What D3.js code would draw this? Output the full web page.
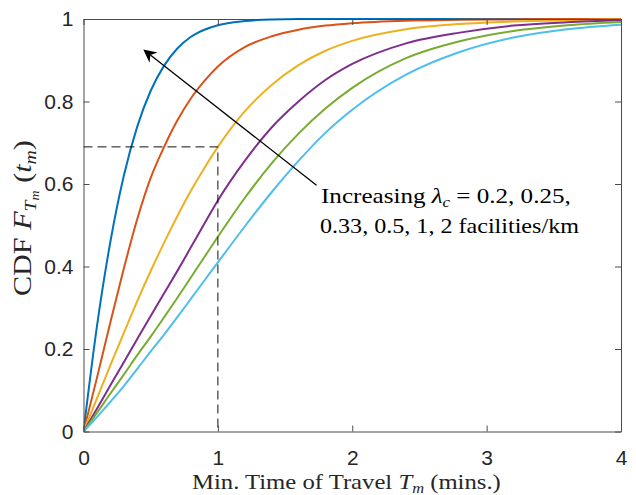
<!DOCTYPE html>
<html>
<head>
<meta charset="utf-8">
<script src="https://cdn.jsdelivr.net/npm/d3@7"></script>
<style>
  html, body { margin: 0; padding: 0; background: #fff; }
  svg { display: block; }
</style>
</head>
<body>
<div id="chart"></div>
<script>
// ---- data ----
const tValues = [0, 0.1, 0.2, 0.3, 0.4, 0.5, 0.6, 0.7, 0.8, 0.9, 1.0, 1.2, 1.4, 1.6, 1.8, 2.0, 2.4, 2.8, 3.2, 3.6, 4.0];
const lambdaLabels = ["2", "1", "0.5", "0.33", "0.25", "0.2"];
const cdfLambda2    = [0, 0.255, 0.46, 0.62, 0.739, 0.826, 0.887, 0.929, 0.957, 0.974, 0.985, 0.995, 0.999, 1, 1, 1, 1, 1, 1, 1, 1];
const cdfLambda1    = [0, 0.13, 0.265, 0.395, 0.515, 0.615, 0.69, 0.755, 0.808, 0.85, 0.885, 0.932, 0.958, 0.974, 0.984, 0.99, 0.996, 0.998, 0.999, 1, 1];
const cdfLambda05   = [0, 0.08, 0.161, 0.239, 0.316, 0.389, 0.458, 0.523, 0.584, 0.639, 0.69, 0.776, 0.84, 0.888, 0.923, 0.947, 0.975, 0.988, 0.994, 0.997, 0.999];
const cdfLambda033  = [0, 0.055, 0.112, 0.168, 0.224, 0.28, 0.335, 0.39, 0.447, 0.504, 0.56, 0.656, 0.737, 0.80, 0.852, 0.891, 0.941, 0.967, 0.984, 0.992, 0.997];
const cdfLambda025  = [0, 0.045, 0.092, 0.138, 0.185, 0.23, 0.277, 0.325, 0.374, 0.423, 0.472, 0.566, 0.65, 0.722, 0.783, 0.833, 0.905, 0.946, 0.971, 0.985, 0.993];
const cdfLambda02   = [0, 0.035, 0.072, 0.11, 0.152, 0.194, 0.235, 0.278, 0.322, 0.366, 0.41, 0.497, 0.58, 0.656, 0.724, 0.78, 0.865, 0.92, 0.955, 0.975, 0.986];
const xTicks = [0, 1, 2, 3, 4];
const yTicks = [0, 0.2, 0.4, 0.6, 0.8, 1];
const markerT = 1;
const markerF = 0.69;
const arrowFrom = [1.734, 0.597];
const arrowTo = [0.445, 0.926];

const series = [cdfLambda2, cdfLambda1, cdfLambda05, cdfLambda033, cdfLambda025, cdfLambda02];
const colors = ["#0072BD", "#D95319", "#EDB120", "#7E2F8E", "#77AC30", "#4DBEEE"];

// ---- layout ----
const W = 636, H = 495;
const x0 = 83.5, x1 = 621, y0 = 431.5, y1 = 19;
const x = d3.scaleLinear().domain([0, 4]).range([x0, x1]);
const y = d3.scaleLinear().domain([0, 1]).range([y0, y1]);

const svg = d3.select("#chart").append("svg").attr("width", W).attr("height", H);

svg.append("defs").append("clipPath").attr("id", "plotclip")
  .append("rect").attr("x", x0).attr("y", y1 - 2).attr("width", x1 - x0).attr("height", y0 - y1 + 2);

// curves
const line = d3.line().x((d, i) => x(tValues[i])).y(d => y(d)).curve(d3.curveMonotoneX);
svg.append("g").attr("clip-path", "url(#plotclip)")
  .selectAll("path").data(series).join("path")
  .attr("d", d => line(d))
  .attr("fill", "none")
  .attr("stroke", (d, i) => colors[i])
  .attr("stroke-width", 2)
  .attr("stroke-linejoin", "round");

// dashed guide lines
svg.append("path")
  .attr("d", `M${x(0)},${y(markerF)}H${x(markerT)}V${y(0)}`)
  .attr("fill", "none").attr("stroke", "#111").attr("stroke-width", 1)
  .attr("stroke-dasharray", "9,5");

// axes
const axisColor = "#4a4a4a";
const fontSans = "'Liberation Sans', Arial, Helvetica, sans-serif";
const gx = svg.append("g").attr("transform", `translate(0,${y0})`)
  .call(d3.axisBottom(x).tickValues(xTicks).tickFormat(d3.format("d")).tickSize(-6).tickSizeOuter(0).tickPadding(19));
const gy = svg.append("g").attr("transform", `translate(${x0},0)`)
  .call(d3.axisLeft(y).tickValues(yTicks).tickFormat(d => d === 0 || d === 1 ? d3.format("d")(d) : d3.format(".1f")(d)).tickSize(-6).tickSizeOuter(0).tickPadding(10));
const gxt = svg.append("g").attr("transform", `translate(0,${y1})`)
  .call(d3.axisTop(x).tickValues(xTicks).tickFormat("").tickSize(-6).tickSizeOuter(0));
const gyr = svg.append("g").attr("transform", `translate(${x1},0)`)
  .call(d3.axisRight(y).tickValues(yTicks).tickFormat("").tickSize(-6).tickSizeOuter(0));
[gx, gy, gxt, gyr].forEach(g => {
  g.select(".domain").attr("stroke", axisColor).attr("stroke-width", 1);
  g.selectAll(".tick line").attr("stroke", axisColor).attr("stroke-width", 1);
  g.selectAll(".tick text").attr("fill", "#262626").style("font-family", fontSans).style("font-size", "21px");
});

// arrow annotation
const ax0 = x(arrowFrom[0]), ay0 = y(arrowFrom[1]);
const ax1 = x(arrowTo[0]), ay1 = y(arrowTo[1]);
const ang = Math.atan2(ay1 - ay0, ax1 - ax0);
const headLen = 13, headHalf = 6.5, back = 4;
const ux = Math.cos(ang), uy = Math.sin(ang), px = -uy, py = ux;
svg.append("line")
  .attr("x1", ax0).attr("y1", ay0)
  .attr("x2", ax1 - ux * (headLen - back)).attr("y2", ay1 - uy * (headLen - back))
  .attr("stroke", "#000").attr("stroke-width", 1.3);
svg.append("path")
  .attr("d", `M${ax1},${ay1}` +
    `L${ax1 - ux * headLen + px * headHalf},${ay1 - uy * headLen + py * headHalf}` +
    `L${ax1 - ux * (headLen - back)},${ay1 - uy * (headLen - back)}` +
    `L${ax1 - ux * headLen - px * headHalf},${ay1 - uy * headLen - py * headHalf}Z`)
  .attr("fill", "#000");

// serif texts, stretched horizontally to the width of the reference's LaTeX glyphs
const fontSerif = "'Liberation Serif', 'DejaVu Serif', serif";
function fitText(sel, tx, ty, targetW, rot) {
  const w = sel.node().getComputedTextLength();
  const s = targetW / w;
  sel.attr("transform", `translate(${tx},${ty})${rot ? " rotate(-90)" : ""} scale(${s},1)`);
}

const l1 = svg.append("text").attr("font-family", fontSerif).attr("font-size", 21).attr("fill", "#000");
l1.append("tspan").text("Increasing ");
l1.append("tspan").attr("font-style", "italic").text("λ");
l1.append("tspan").attr("font-style", "italic").attr("font-size", 14).attr("dy", 4).text("c");
l1.append("tspan").attr("dy", -4).text(" = 0.2, 0.25,");
fitText(l1, 321, 203, 250);

const l2 = svg.append("text").attr("font-family", fontSerif).attr("font-size", 21).attr("fill", "#000")
  .text("0.33, 0.5, 1, 2 facilities/km");
fitText(l2, 320, 233, 259);

// x label
const xl = svg.append("text").attr("font-family", fontSerif).attr("font-size", 21).attr("fill", "#262626");
xl.append("tspan").text("Min. Time of Travel ");
xl.append("tspan").attr("font-style", "italic").text("T");
xl.append("tspan").attr("font-style", "italic").attr("font-size", 14).attr("dy", 4).text("m");
xl.append("tspan").attr("dy", -4).text(" (mins.)");
fitText(xl, 192, 489, 309);

// y label
const yl = svg.append("text").attr("font-family", fontSerif).attr("font-size", 26).attr("fill", "#262626");
yl.append("tspan").text("CDF ");
yl.append("tspan").attr("font-style", "italic").text("F");
yl.append("tspan").attr("font-style", "italic").attr("font-size", 17).attr("dy", 5).text("T");
yl.append("tspan").attr("font-style", "italic").attr("font-size", 12).attr("dy", 3).text("m");
yl.append("tspan").attr("dy", -8).text("  (");
yl.append("tspan").attr("font-style", "italic").text("t");
yl.append("tspan").attr("font-style", "italic").attr("font-size", 17).attr("dy", 5).text("m");
yl.append("tspan").attr("dy", -5).text(")");
fitText(yl, 31, 296, 156, true);
</script>
</body>
</html>
